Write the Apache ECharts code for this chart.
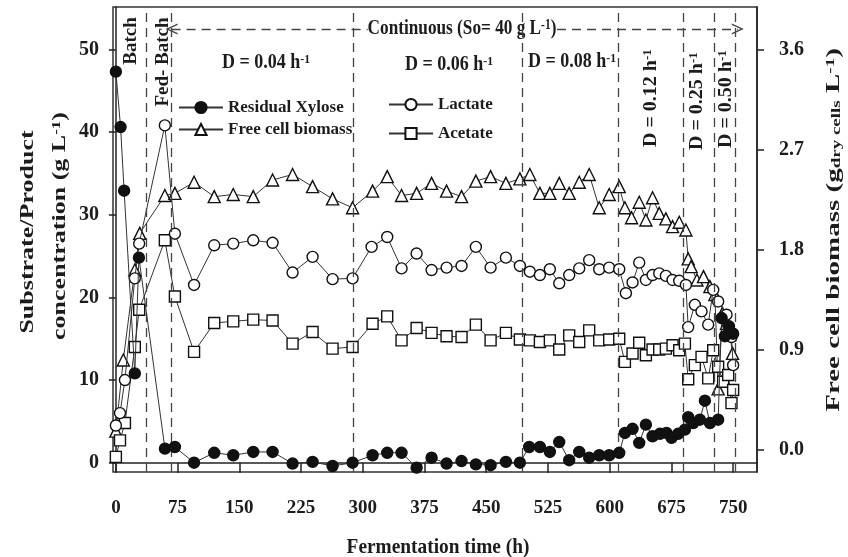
<!DOCTYPE html>
<html>
<head>
<meta charset="utf-8">
<script src="https://cdn.jsdelivr.net/npm/echarts@6/dist/echarts.min.js"></script>
<style>
  html, body { margin: 0; padding: 0; background: #fff; }
  #chart { width: 848px; height: 557px; }
</style>
</head>
<body>
<div id="chart"></div>
<script>
// axis ticks
const xTicks = [0, 75, 150, 225, 300, 375, 450, 525, 600, 675, 750]
const leftTicks = [0, 10, 20, 30, 40, 50]
const rightTicks = [0, 0.9, 1.8, 2.7, 3.6]
// phase boundaries (h)
const phaseBreaks = [37.3, 67.7, 288.6, 494, 611, 689, 726.6, 752]

// [time (h), g/L]
const xylose = [[0,47.3],[5.7,40.6],[10,32.9],[23,10.8],[28,24.8],[59.6,1.7],[71.7,1.9],[95,0],[119.5,1.2],[142.6,0.9],[166.9,1.3],[190.4,1.3],[214.7,-0.1],[239,0.1],[263.3,-0.4],[287.6,0],[311.9,0.9],[329.7,1.2],[347.1,1.2],[365.4,-0.6],[383.6,0.6],[401.8,-0.1],[420,0.2],[437.4,-0.2],[455.3,-0.3],[473.9,0.1],[490.9,0],[502.2,1.9],[515.2,1.9],[527.3,1.3],[538.7,2.5],[550.8,0.3],[563,1.3],[575.1,0.6],[587.3,0.9],[599.4,0.9],[611.6,1.2],[618.5,3.6],[627.8,4.1],[635.9,2.4],[644,4.6],[652.1,3.2],[661,3.5],[669,3.6],[675.2,3.0],[683.2,3.5],[691.4,4.0],[695.4,5.5],[701.5,4.8],[709.6,5.2],[715.7,7.5],[721.8,4.8],[731.8,5.2],[736,17.5],[740,15.3],[745,16.5],[750,15.6]]
const lactate = [[0,4.5],[5,6],[11,10],[23,22.3],[28.3,26.5],[59.5,40.8],[71.7,27.7],[95,21.5],[119.5,26.3],[142.6,26.5],[166.9,26.9],[190.4,26.6],[214.7,23],[239,24.9],[263.3,22.2],[287.6,22.3],[310.7,26.1],[329.7,27.3],[347.1,23.5],[365.4,25.3],[383.6,23.3],[401.8,23.6],[420,23.8],[437.4,26.1],[455.3,23.6],[473.9,24.8],[490.9,23.8],[503,23.1],[515.2,22.7],[527.3,23.4],[538.7,21.7],[550.8,22.7],[563,23.5],[575.1,24.5],[587.3,23.4],[599.4,23.6],[611.6,23.4],[619.7,20.5],[627.8,21.8],[635.9,24.2],[644,22.1],[652.1,22.7],[660.2,22.9],[668.3,22.6],[676.4,22.1],[684.5,22],[692.6,21.5],[695.4,16.4],[703.5,19.1],[711.6,18.3],[719.7,16.7],[725.8,20.9],[731.8,19.5],[742,17.9],[748,15.2],[750,11.8]]
const acetate = [[0,0.7],[5,2.7],[11,4.8],[23,14],[28.3,18.5],[59.5,26.9],[71.7,20.1],[95,13.4],[119.5,16.9],[142.6,17.1],[166.9,17.3],[190.4,17.2],[214.7,14.4],[239,15.8],[263.3,13.8],[287.6,14],[311.9,16.8],[329.7,17.7],[347.1,14.8],[365.4,16.3],[383.6,15.7],[401.8,15.3],[420,15.2],[437.4,16.7],[455.3,14.8],[473.9,15.7],[490.9,14.9],[503,14.8],[515.2,14.6],[527.3,14.8],[538.7,13.7],[550.8,15.4],[563,14.6],[575.1,16],[587.3,14.8],[599.4,14.9],[611.6,15],[618.5,12.2],[627.8,13.2],[635.9,14.5],[644,13],[652.1,13.7],[660.2,13.7],[668.3,13.8],[676.4,14.2],[684.5,13.6],[691.4,14.4],[695.4,10.1],[703.5,11.8],[711.6,12.8],[719.7,10.2],[725.8,13.6],[731.8,11.6],[737.9,9.8],[744,10.6],[748,7.2],[750,8.8]]
// [time (h), g dry cells/L] on right axis
const biomass = [[0,0.17],[9,0.81],[23,1.62],[29,1.95],[59.5,2.29],[71.7,2.31],[95,2.41],[119.5,2.28],[142.6,2.3],[166.9,2.28],[190.4,2.43],[214.7,2.48],[239,2.37],[263.3,2.26],[287.6,2.18],[311.9,2.33],[329.7,2.46],[347.1,2.29],[365.4,2.31],[383.6,2.4],[401.8,2.33],[420,2.28],[437.4,2.42],[455.3,2.46],[473.9,2.4],[490.9,2.44],[503,2.48],[515.2,2.31],[527.3,2.31],[538.7,2.4],[550.8,2.31],[563,2.41],[575.1,2.48],[587.3,2.18],[599.4,2.3],[611.6,2.37],[618.5,2.18],[626.6,2.09],[635.9,2.23],[644,2.07],[652.1,2.27],[660.2,2.13],[668.3,2.08],[676.4,2.01],[684.5,2.05],[692.6,1.98],[695.4,1.72],[699,1.65],[706,1.53],[714,1.56],[721.8,1.47],[727.8,1.4],[731.8,0.55],[737,1.23],[742,1.14],[746,1.04],[749.3,0.87]]

const FONT = "Liberation Serif"
const INK = "#1c1c1c"
const arrowHead = "path://M0,12 L6,0 L12,12 L10.4,12 L6,3.2 L1.6,12 Z"

function series(name, data, symbol, filled, axis, z) {
  return {
    name: name,
    type: "line",
    data: data,
    yAxisIndex: axis,
    symbol: symbol,
    symbolSize: symbol === "triangle" ? 12 : 11,
    z: z,
    lineStyle: { color: "#333", width: 1 },
    itemStyle: { color: filled ? "#111" : "#fff", borderColor: "#111", borderWidth: 1.4 }
  }
}

function label(x, y, text, size, extra) {
  let small = Math.round(size * 0.65)
  return Object.assign({
    type: "text",
    x: x,
    y: y,
    silent: true,
    style: {
      text: text,
      fontFamily: FONT,
      fontWeight: "bold",
      fontSize: size,
      fill: INK,
      align: "center",
      verticalAlign: "middle",
      rich: {
        s: { fontFamily: FONT, fontWeight: "bold", fontSize: small, fill: INK, verticalAlign: "top" },
        d: { fontFamily: FONT, fontWeight: "bold", fontSize: small, fill: INK, verticalAlign: "bottom" }
      }
    }
  }, extra || {})
}

function withAlign(el, align) {
  el.style.align = align
  return el
}

const up = Math.PI / 2
let xyl = series("Residual Xylose", xylose, "circle", true, 0, 5)
xyl.markLine = {
  silent: true,
  symbol: "none",
  animation: false,
  label: { show: false },
  lineStyle: { type: [9, 6], color: "#444", width: 1.3 },
  data: phaseBreaks.map(v => ({ xAxis: v })).concat([
    [{ coord: [67.7, 52.46], symbol: arrowHead, symbolSize: [11, 12] }, { coord: [306, 52.46], symbol: "none" }],
    [{ coord: [536, 52.46], symbol: "none" }, { coord: [755.7, 52.46], symbol: arrowHead, symbolSize: [11, 12] }]
  ])
}

let chart = echarts.init(document.getElementById("chart"))
let legendText = { fontFamily: FONT, fontWeight: "bold", fontSize: 17, color: INK }
chart.setOption({
  animation: false,
  grid: {
    left: 113, right: 91, top: 7, bottom: 85,
    show: true, borderColor: "#333", borderWidth: 1.5, backgroundColor: "transparent"
  },
  legend: [
    { data: ["Residual Xylose", "Free cell biomass"], left: 178, top: 99, orient: "vertical",
      itemWidth: 44, itemHeight: 14, itemGap: 5, padding: 0, textStyle: legendText },
    { data: ["Lactate", "Acetate"], left: 388, top: 96, orient: "vertical",
      itemWidth: 44, itemHeight: 14, itemGap: 12, padding: 0, textStyle: legendText }
  ],
  xAxis: {
    type: "value", min: -3.5, max: 779,
    axisLine: { show: true, lineStyle: { color: "#222", width: 1.5 } },
    axisTick: { show: true, length: 10, customValues: xTicks, lineStyle: { color: "#222", width: 1.5 } },
    axisLabel: { customValues: xTicks, margin: 27, fontFamily: FONT, fontWeight: "bold", fontSize: 19, color: INK },
    splitLine: { show: false }
  },
  yAxis: [
    {
      type: "value", min: -1.125, max: 55.12, position: "left",
      axisLine: { show: true, lineStyle: { color: "#222", width: 1.5 } },
      axisTick: { show: true, length: 7, customValues: leftTicks, lineStyle: { color: "#222", width: 1.5 } },
      axisLabel: { customValues: leftTicks, margin: 14, fontFamily: FONT, fontWeight: "bold", fontSize: 20, color: INK },
      splitLine: { show: false }
    },
    {
      type: "value", min: -0.198, max: 3.987, position: "right",
      axisLine: { show: true, lineStyle: { color: "#222", width: 1.5 } },
      axisTick: { show: true, length: 7, customValues: rightTicks, lineStyle: { color: "#222", width: 1.5 } },
      axisLabel: { customValues: rightTicks, margin: 22, fontFamily: FONT, fontWeight: "bold", fontSize: 20, color: INK,
        formatter: v => v.toFixed(1) },
      splitLine: { show: false }
    }
  ],
  graphic: [
    label(131.5, 41, "Batch", 19, { rotation: up }),
    label(163.5, 62, "Fed- Batch", 19, { rotation: up }),
    label(462, 29, "Continuous (So= 40 g L{s|-1})", 21, { scaleX: 0.82 }),
    withAlign(label(222, 63, "D = 0.04 h{s|-1}", 20, { scaleX: 0.9 }), "left"),
    withAlign(label(405, 65, "D = 0.06 h{s|-1}", 20, { scaleX: 0.9 }), "left"),
    withAlign(label(528, 62, "D = 0.08 h{s|-1}", 20, { scaleX: 0.9 }), "left"),
    withAlign(label(651, 147, "D = 0.12 h{s|-1}", 20, { rotation: up, scaleY: 0.9 }), "left"),
    withAlign(label(697.5, 150, "D = 0.25 h{s|-1}", 20, { rotation: up, scaleY: 0.9 }), "left"),
    withAlign(label(726, 148, "D = 0.50 h{s|-1}", 20, { rotation: up, scaleY: 0.9 }), "left"),
    label(28, 232, "Substrate/Product", 26, { rotation: up, scaleY: 0.72 }),
    label(60, 226, "concentration (g L{s|-1})", 26, { rotation: up, scaleY: 0.72 }),
    label(834, 230, "Free cell biomass (g{d|dry cells} L{s|-1})", 29, { rotation: up, scaleY: 0.65 }),
    label(438, 547, "Fermentation time (h)", 22, { scaleX: 0.88 })
  ],
  series: [
    series("Free cell biomass", biomass, "triangle", false, 1, 2),
    series("Acetate", acetate, "rect", false, 0, 3),
    series("Lactate", lactate, "circle", false, 0, 4),
    xyl
  ]
})
</script>
</body>
</html>
